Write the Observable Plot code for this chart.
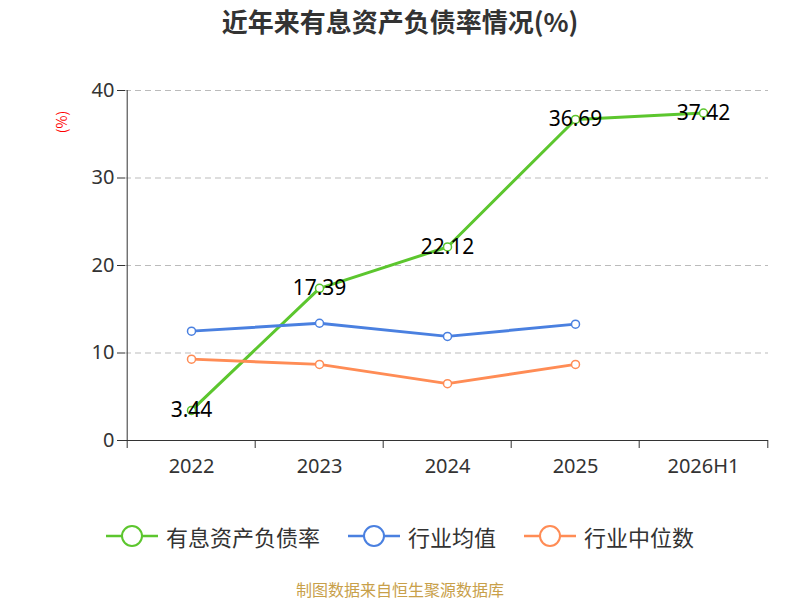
<!DOCTYPE html>
<html><head><meta charset="utf-8">
<script src="https://cdn.jsdelivr.net/npm/d3@7"></script>
<script src="https://cdn.jsdelivr.net/npm/@observablehq/plot@0.6"></script>
<style>
body{margin:0;font-family:"Noto Sans CJK SC","Noto Sans",sans-serif;}
#wrap{position:relative;width:800px;height:600px;}
.abs{position:absolute;}
</style></head><body>
<div id="wrap">
<div class="abs" style="top:2px;left:0;width:800px;text-align:center;font-size:26px;font-weight:bold;color:#333">近年来有息资产负债率情况(%)</div>
<div class="abs" style="top:112px;left:50px;color:red;font-size:14px;transform:rotate(-90deg)">(%)</div>
<div id="chart" class="abs" style="top:0;left:0"></div>
<div id="legend" class="abs" style="top:520px;left:0;width:800px;display:flex;justify-content:center;gap:28px;font-size:22px;color:#333"></div>
<div class="abs" style="top:577px;left:0;width:800px;text-align:center;font-size:16px;color:#c8a04a">制图数据来自恒生聚源数据库</div>
</div>
<script>
const categories=["2022","2023","2024","2025","2026H1"];
const rateVals=[3.44,17.39,22.12,36.69,37.42];
const avgVals=[12.5,13.4,11.9,13.3];
const medVals=[9.3,8.7,6.5,8.7];
const names=["有息资产负债率","行业均值","行业中位数"];
const colors=["#5cc62e","#4a80e0","#ff8c55"];
const series=[rateVals,avgVals,medVals].map((v,i)=>v.map((y,j)=>({x:categories[j],y,s:names[i]}))).flat();
const rate=series.filter(d=>d.s===names[0]);
const bw=(800-125-32)/5;
const chart=Plot.plot({
  width:800,height:600,marginTop:90,marginBottom:160,marginLeft:125,marginRight:32,
  style:{fontSize:"20px",color:"#333",fontFamily:"Noto Sans, sans-serif"},
  x:{type:"band",domain:categories,padding:0,label:null},
  y:{domain:[0,40],ticks:[0,10,20,30,40],label:null},
  color:{domain:names,range:colors},
  marks:[
    Plot.gridY([10,20,30,40],{stroke:"#bbb",strokeOpacity:1,strokeDasharray:"6,4"}),
    Plot.axisY({ticks:[0,10,20,30,40],tickSize:8,fontSize:20}),
    Plot.axisX({tickSize:0,fontSize:20,tickPadding:18}),
    Plot.ruleY([0],{stroke:"#333"}),
    Plot.ruleX(categories,{x:d=>d,y1:0,y2:0,dx:-bw/2,insetBottom:-8,stroke:"#333"}),
    Plot.ruleX([categories[4]],{x:d=>d,y1:0,y2:0,dx:bw/2,insetBottom:-8,stroke:"#333"}),
    Plot.ruleX([categories[0]],{x:d=>d,y1:0,y2:40,dx:-bw/2,stroke:"#333"}),
    Plot.line(series,{x:"x",y:"y",z:"s",stroke:"s",strokeWidth:3}),
    Plot.dot(series,{x:"x",y:"y",stroke:"s",fill:"white",r:4,strokeWidth:1.5}),
    Plot.text(rate,{x:"x",y:"y",text:d=>d.y.toFixed(2),fontSize:21,fill:"black"})
  ]
});
document.getElementById("chart").append(chart);
const lg=document.getElementById("legend");
names.forEach((n,i)=>{
  lg.insertAdjacentHTML("beforeend",`<div style="display:flex;align-items:center;gap:8px"><svg width="52" height="26"><line x1="0" x2="52" y1="13" y2="13" stroke="${colors[i]}" stroke-width="2.5"/><circle cx="26" cy="13" r="10" fill="white" stroke="${colors[i]}" stroke-width="2"/></svg><span>${n}</span></div>`);
});
</script></body></html>
